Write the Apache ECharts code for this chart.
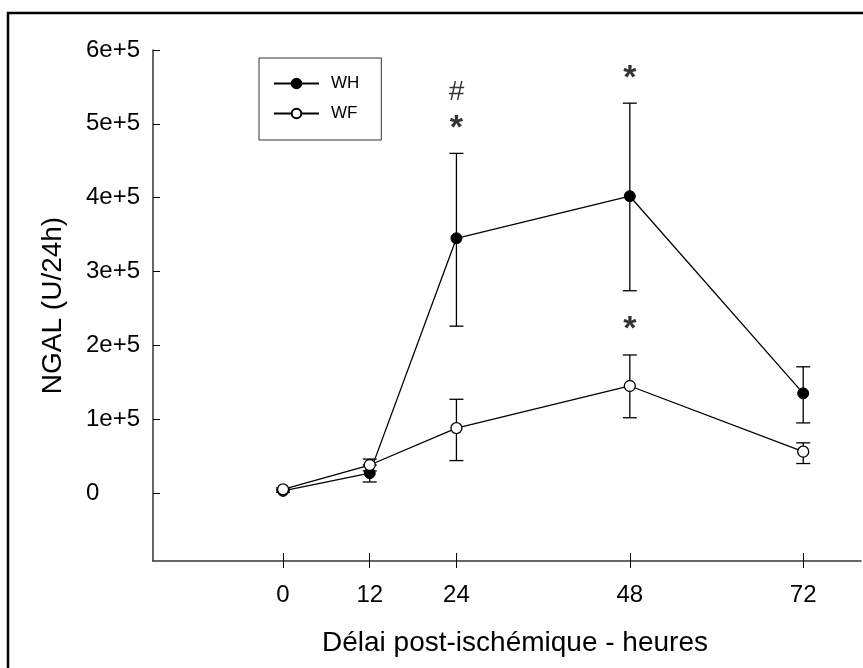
<!DOCTYPE html>
<html>
<head>
<meta charset="utf-8">
<script src="https://cdn.jsdelivr.net/npm/echarts@6/dist/echarts.min.js"></script>
<style>
  html, body { margin: 0; padding: 0; background: #fff; }
  #chart { width: 863px; height: 668px; }
</style>
</head>
<body>
<div id="chart"></div>
<script>
// hours after ischemia
const hours = [0, 12, 24, 48, 72];

// WH group (filled circles)
const whMean = [3000, 27000, 345000, 402000, 135000];
const whLow = [1000, 15000, 226000, 274000, 95000];
const whHigh = [5000, 38000, 460000, 528000, 171000];

// WF group (open circles)
const wfMean = [5000, 38000, 88000, 145000, 56000];
const wfLow = [3000, 30000, 44000, 102000, 40000];
const wfHigh = [7000, 46000, 127000, 187000, 68000];

// significance marks above the error bars
const whStar = ['', '', '*', '*', ''];
const whHash = ['', '', '#', '', ''];
const wfStar = ['', '', '', '*', ''];

const yTicks = [0, 100000, 200000, 300000, 400000, 500000, 600000];
const yTickLabels = ['0', '1e+5', '2e+5', '3e+5', '4e+5', '5e+5', '6e+5'];
const xTicks = [0, 12, 24, 48, 72];

const FONT = '"Liberation Sans", Arial, sans-serif';

const chart = echarts.init(document.getElementById('chart'));

function errorBar(params, api) {
  const x = api.value(0);
  const lo = api.coord([x, api.value(1)]);
  const hi = api.coord([x, api.value(2)]);
  const w = 7;
  const style = { stroke: '#000', lineWidth: 1.3 };
  return {
    type: 'group',
    children: [
      { type: 'line', shape: { x1: lo[0], y1: lo[1], x2: hi[0], y2: hi[1] }, style },
      { type: 'line', shape: { x1: lo[0] - w, y1: lo[1], x2: lo[0] + w, y2: lo[1] }, style },
      { type: 'line', shape: { x1: hi[0] - w, y1: hi[1], x2: hi[0] + w, y2: hi[1] }, style }
    ]
  };
}

function marks(texts, tops, dy, size, bold) {
  const out = [];
  texts.forEach((t, i) => {
    if (!t) return;
    out.push({
      value: [hours[i], tops[i]],
      label: { formatter: t, offset: [0, dy], fontSize: size, fontWeight: bold ? 'bold' : 'normal' }
    });
  });
  return out;
}

const option = {
  animation: false,
  backgroundColor: '#fff',
  graphic: [{
    type: 'rect',
    shape: { x: 8, y: 13, width: 900, height: 700 },
    style: { fill: 'none', stroke: '#000', lineWidth: 2.5 },
    silent: true
  }],
  grid: { left: 153, right: 2, top: 50, bottom: 107, outerBoundsMode: 'none' },
  legend: {
    orient: 'vertical',
    left: 259,
    top: 58,
    padding: [17, 22, 18, 14],
    itemWidth: 45,
    itemHeight: 12,
    itemGap: 13,
    borderColor: '#333',
    borderWidth: 1,
    backgroundColor: '#fff',
    textStyle: { fontFamily: FONT, fontSize: 17, color: '#000', padding: [0, 0, 0, 7] },
    data: ['WH', 'WF']
  },
  xAxis: [{
    type: 'value',
    min: -18,
    max: 80,
    name: 'Délai post-ischémique - heures',
    nameLocation: 'middle',
    nameGap: 68,
    nameTextStyle: { fontFamily: FONT, fontSize: 28, color: '#000', padding: [0, 0, 0, 16] },
    axisLine: { show: true, onZero: false, lineStyle: { color: '#333', width: 1.5 } },
    axisTick: { show: true, inside: false, length: 7, lineStyle: { color: '#000' }, customValues: xTicks },
    axisLabel: { customValues: xTicks, margin: 22, fontFamily: FONT, fontSize: 24, color: '#000' },
    splitLine: { show: false }
  }, {
    type: 'value',
    min: -18,
    max: 80,
    position: 'bottom',
    axisLine: { show: false, onZero: false },
    axisTick: { show: true, inside: true, length: 8, lineStyle: { color: '#000' }, customValues: xTicks },
    axisLabel: { show: false },
    splitLine: { show: false }
  }],
  yAxis: {
    type: 'value',
    min: -92000,
    max: 600000,
    name: 'NGAL (U/24h)',
    nameLocation: 'middle',
    nameGap: 86,
    nameTextStyle: { fontFamily: FONT, fontSize: 28, color: '#000' },
    axisLine: { show: true, onZero: false, lineStyle: { color: '#333', width: 1.5 } },
    axisTick: { show: true, inside: true, length: 7, lineStyle: { color: '#000' }, customValues: yTicks },
    axisLabel: {
      customValues: yTicks,
      align: 'left',
      margin: 67,
      fontFamily: FONT,
      fontSize: 24,
      color: '#000',
      formatter: v => yTickLabels[yTicks.indexOf(v)]
    },
    splitLine: { show: false }
  },
  series: [
    {
      type: 'custom',
      name: 'errWH',
      renderItem: errorBar,
      encode: { x: 0, y: [1, 2] },
      data: hours.map((h, i) => [h, whLow[i], whHigh[i]]),
      z: 1,
      silent: true
    },
    {
      type: 'custom',
      name: 'errWF',
      renderItem: errorBar,
      encode: { x: 0, y: [1, 2] },
      data: hours.map((h, i) => [h, wfLow[i], wfHigh[i]]),
      z: 1,
      silent: true
    },
    {
      type: 'line',
      name: 'WH',
      data: hours.map((h, i) => [h, whMean[i]]),
      symbol: 'circle',
      symbolSize: 11,
      lineStyle: { color: '#000', width: 1.3 },
      itemStyle: { color: '#000', borderColor: '#000', borderWidth: 1 },
      z: 3
    },
    {
      type: 'line',
      name: 'WF',
      data: hours.map((h, i) => [h, wfMean[i]]),
      symbol: 'circle',
      symbolSize: 11,
      lineStyle: { color: '#000', width: 1.3 },
      itemStyle: { color: '#fff', borderColor: '#000', borderWidth: 1.3 },
      z: 4
    },
    {
      type: 'scatter',
      name: 'marks',
      symbolSize: 1,
      itemStyle: { color: 'rgba(0,0,0,0)' },
      label: { show: true, position: 'inside', fontFamily: FONT, color: '#000' },
      data: marks(whStar, whHigh, -25, 34, true)
        .concat(marks(whHash, whHigh, -61, 28, false))
        .concat(marks(wfStar, wfHigh, -25, 34, true)),
      silent: true,
      z: 5
    }
  ]
};

chart.setOption(option);
</script>
</body>
</html>
